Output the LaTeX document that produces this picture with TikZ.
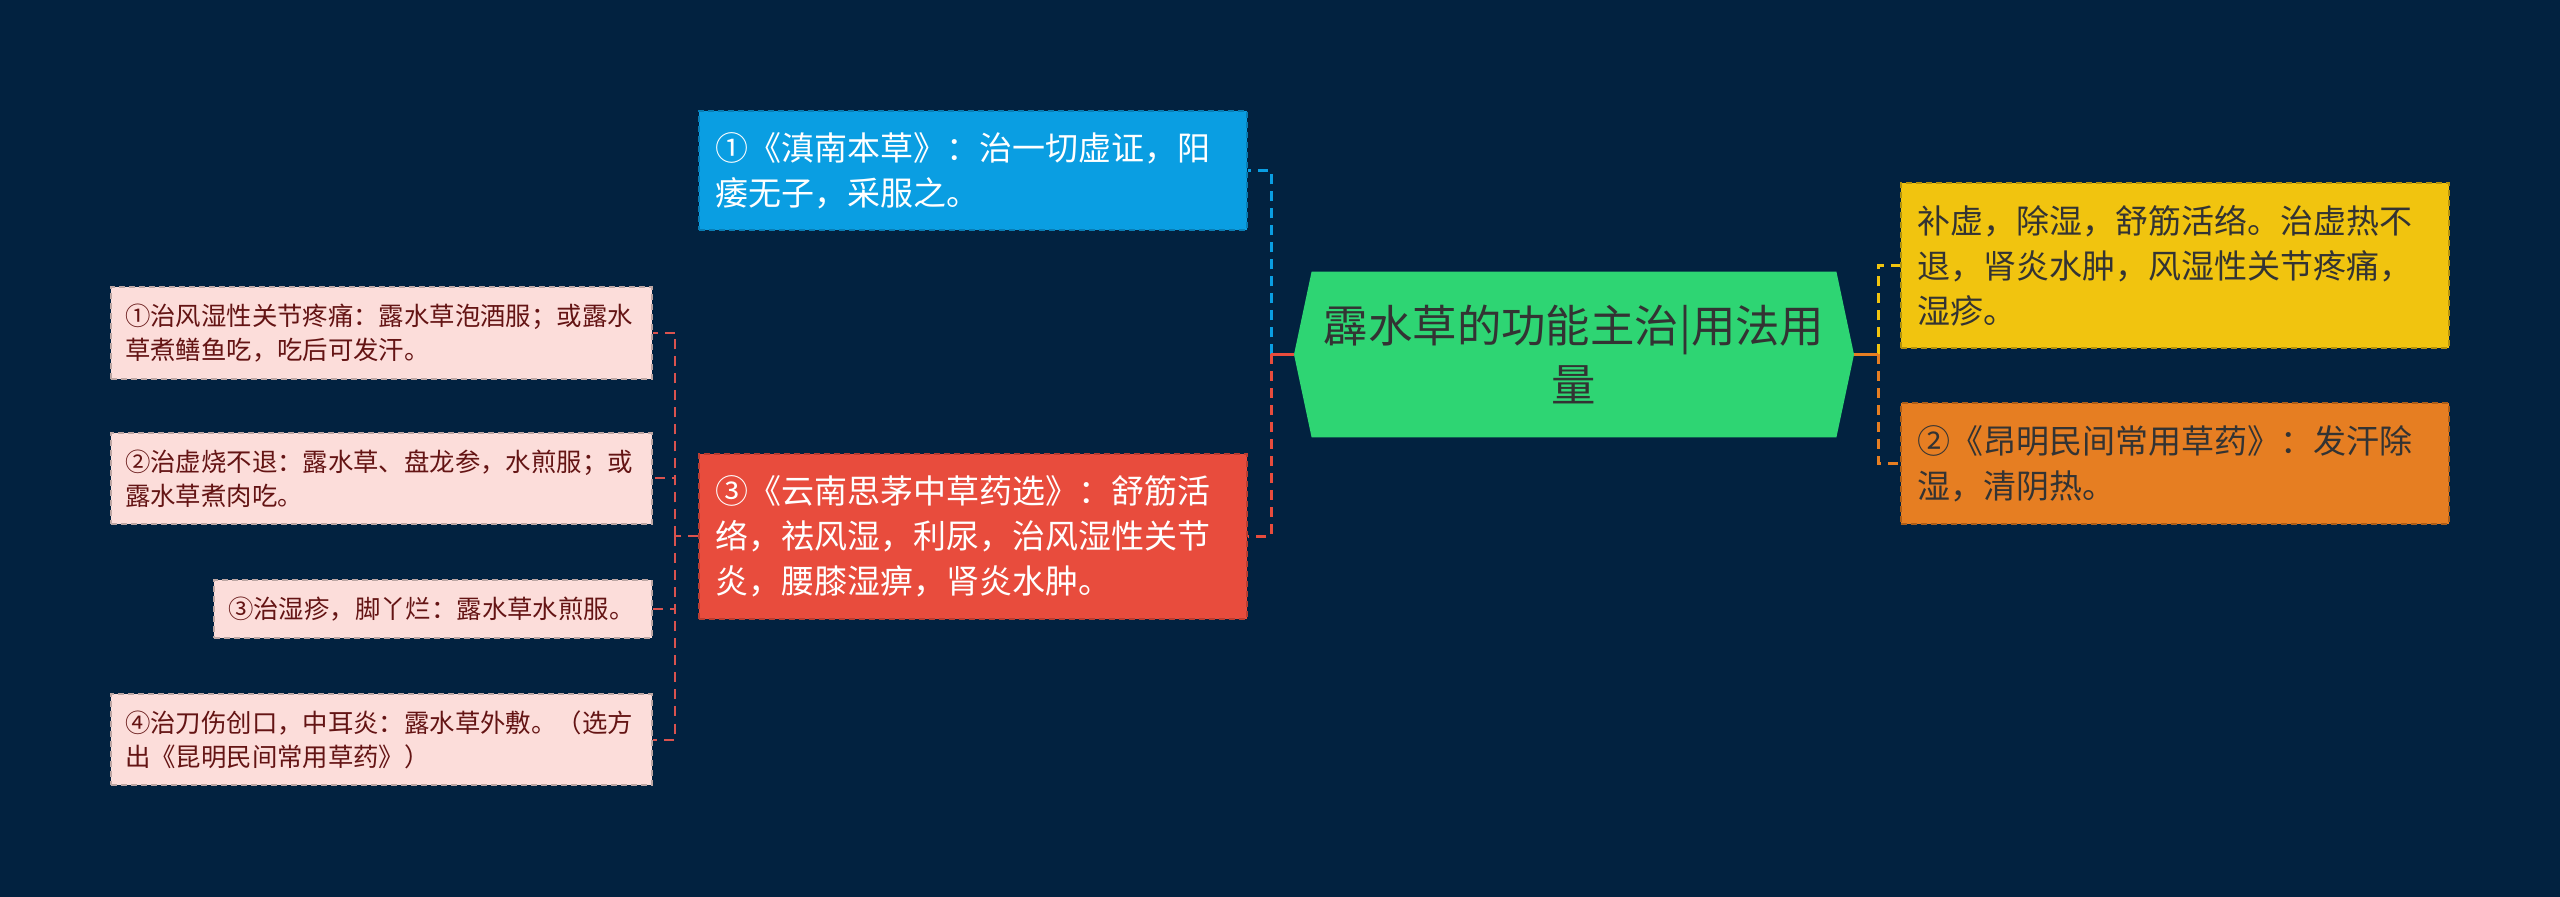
\documentclass[tikz,border=0pt]{standalone}
\usepackage{fontspec}
\setmainfont{Noto Sans CJK SC}
\usetikzlibrary{backgrounds}
\definecolor{bg}{HTML}{022240}
\definecolor{rootgreen}{HTML}{2ED573}
\definecolor{boxblue}{HTML}{0A9EE2}
\definecolor{boxred}{HTML}{E84C3D}
\definecolor{boxyellow}{HTML}{F1C40F}
\definecolor{boxorange}{HTML}{E67E22}
\definecolor{boxpink}{HTML}{FCDDDA}
\definecolor{pinktext}{HTML}{641414}
\definecolor{pinkline}{HTML}{D9534F}
\begin{document}
\begin{tikzpicture}[x=0.5pt,y=-0.5pt,
    item/.style={inner xsep=8pt,align=left,font=\fontsize{16.5}{22.5}\selectfont,
        draw,dash pattern=on 3pt off 2pt,line width=0.7pt,minimum height=#1},
    leaf/.style={inner xsep=7pt,align=left,font=\fontsize{12.7}{17}\selectfont,
        fill=boxpink,draw=boxpink!75!black,dash pattern=on 3pt off 2pt,line width=0.6pt,
        text=pinktext,minimum height=#1},
    link/.style={line width=1.5pt,dash pattern=on 5pt off 3.5pt},
    twig/.style={line width=1pt,pinkline,dash pattern=on 5pt off 3.5pt}]
    \useasboundingbox (0,0) rectangle (2560,897);
    % central topic
    \node[text=black!80,align=center,minimum width=262pt,minimum height=82.5pt,
          font=\fontsize{22.2}{29.5}\selectfont] (root) at (1574,354.5)
          {霹水草的功能主治|用法用\\量};
    \coordinate (rootL) at (1294,354.5);
    \coordinate (rootR) at (1854,354.5);
    \begin{scope}[on background layer]
        \fill[bg] (0,0) rectangle (2560,897);
        \fill[rootgreen] (rootL) -- (root.north west) -- (root.north east) -- (rootR)
            -- (root.south east) -- (root.south west) -- cycle;
    \end{scope}
    % left branches
    \node[item=59.5pt,fill=boxblue,draw=boxblue!80!black,text=white,text width=258pt] (blue) at (973,170.5)
          {①《滇南本草》：治一切虚证，阳\\痿无子，采服之。};
    \node[item=82.5pt,fill=boxred,draw=boxred!80!black,text=white,text width=258pt] (red) at (973,536.5)
          {③《云南思茅中草药选》：舒筋活\\络，祛风湿，利尿，治风湿性关节\\炎，腰膝湿痹，肾炎水肿。};
    % right branches
    \node[item=82.5pt,fill=boxyellow,draw=boxyellow!75!black,text=black!80,text width=258pt] (yellow) at (2175,265.5)
          {补虚，除湿，舒筋活络。治虚热不\\退，肾炎水肿，风湿性关节疼痛，\\湿疹。};
    \node[item=60.5pt,fill=boxorange,draw=boxorange!75!black,text=black!80,text width=258pt] (orange) at (2175,463.5)
          {②《昂明民间常用草药》：发汗除\\湿，清阴热。};
    % leaves of the red branch
    \node[leaf=46pt,text width=256.5pt] (p1) at (381.5,333)
          {①治风湿性关节疼痛：露水草泡酒服；或露水\\草煮鳝鱼吃，吃后可发汗。};
    \node[leaf=45.5pt,text width=256.5pt] (p2) at (381.5,478.5)
          {②治虚烧不退：露水草、盘龙参，水煎服；或\\露水草煮肉吃。};
    \node[leaf=29pt,text width=205pt] (p3) at (433,609)
          {③治湿疹，脚丫烂：露水草水煎服。};
    \node[leaf=45.5pt,text width=256.5pt] (p4) at (381.5,739.5)
          {④治刀伤创口，中耳炎：露水草外敷。（选方\\出《昆明民间常用草药》）};
    % connectors
    \coordinate (jl) at (1271,354.5);
    \coordinate (jr) at (1878,354.5);
    \coordinate (jp) at (675,536.5);
    \draw[link,boxblue] (jl) |- (blue.east);
    \draw[link,boxred] (jl) |- (red.east);
    \draw[line width=1.5pt,boxred] (rootL) -- (jl);
    \draw[link,boxyellow] (jr) |- (yellow.west);
    \draw[link,boxorange] (jr) |- (orange.west);
    \draw[line width=1.5pt,boxorange] (rootR) -- (jr);
    \draw[twig] (red.west) -- (jp);
    \foreach \leafname in {p1,p2,p3,p4}
        \draw[twig] (jp) |- (\leafname.east);
\end{tikzpicture}
\end{document}
